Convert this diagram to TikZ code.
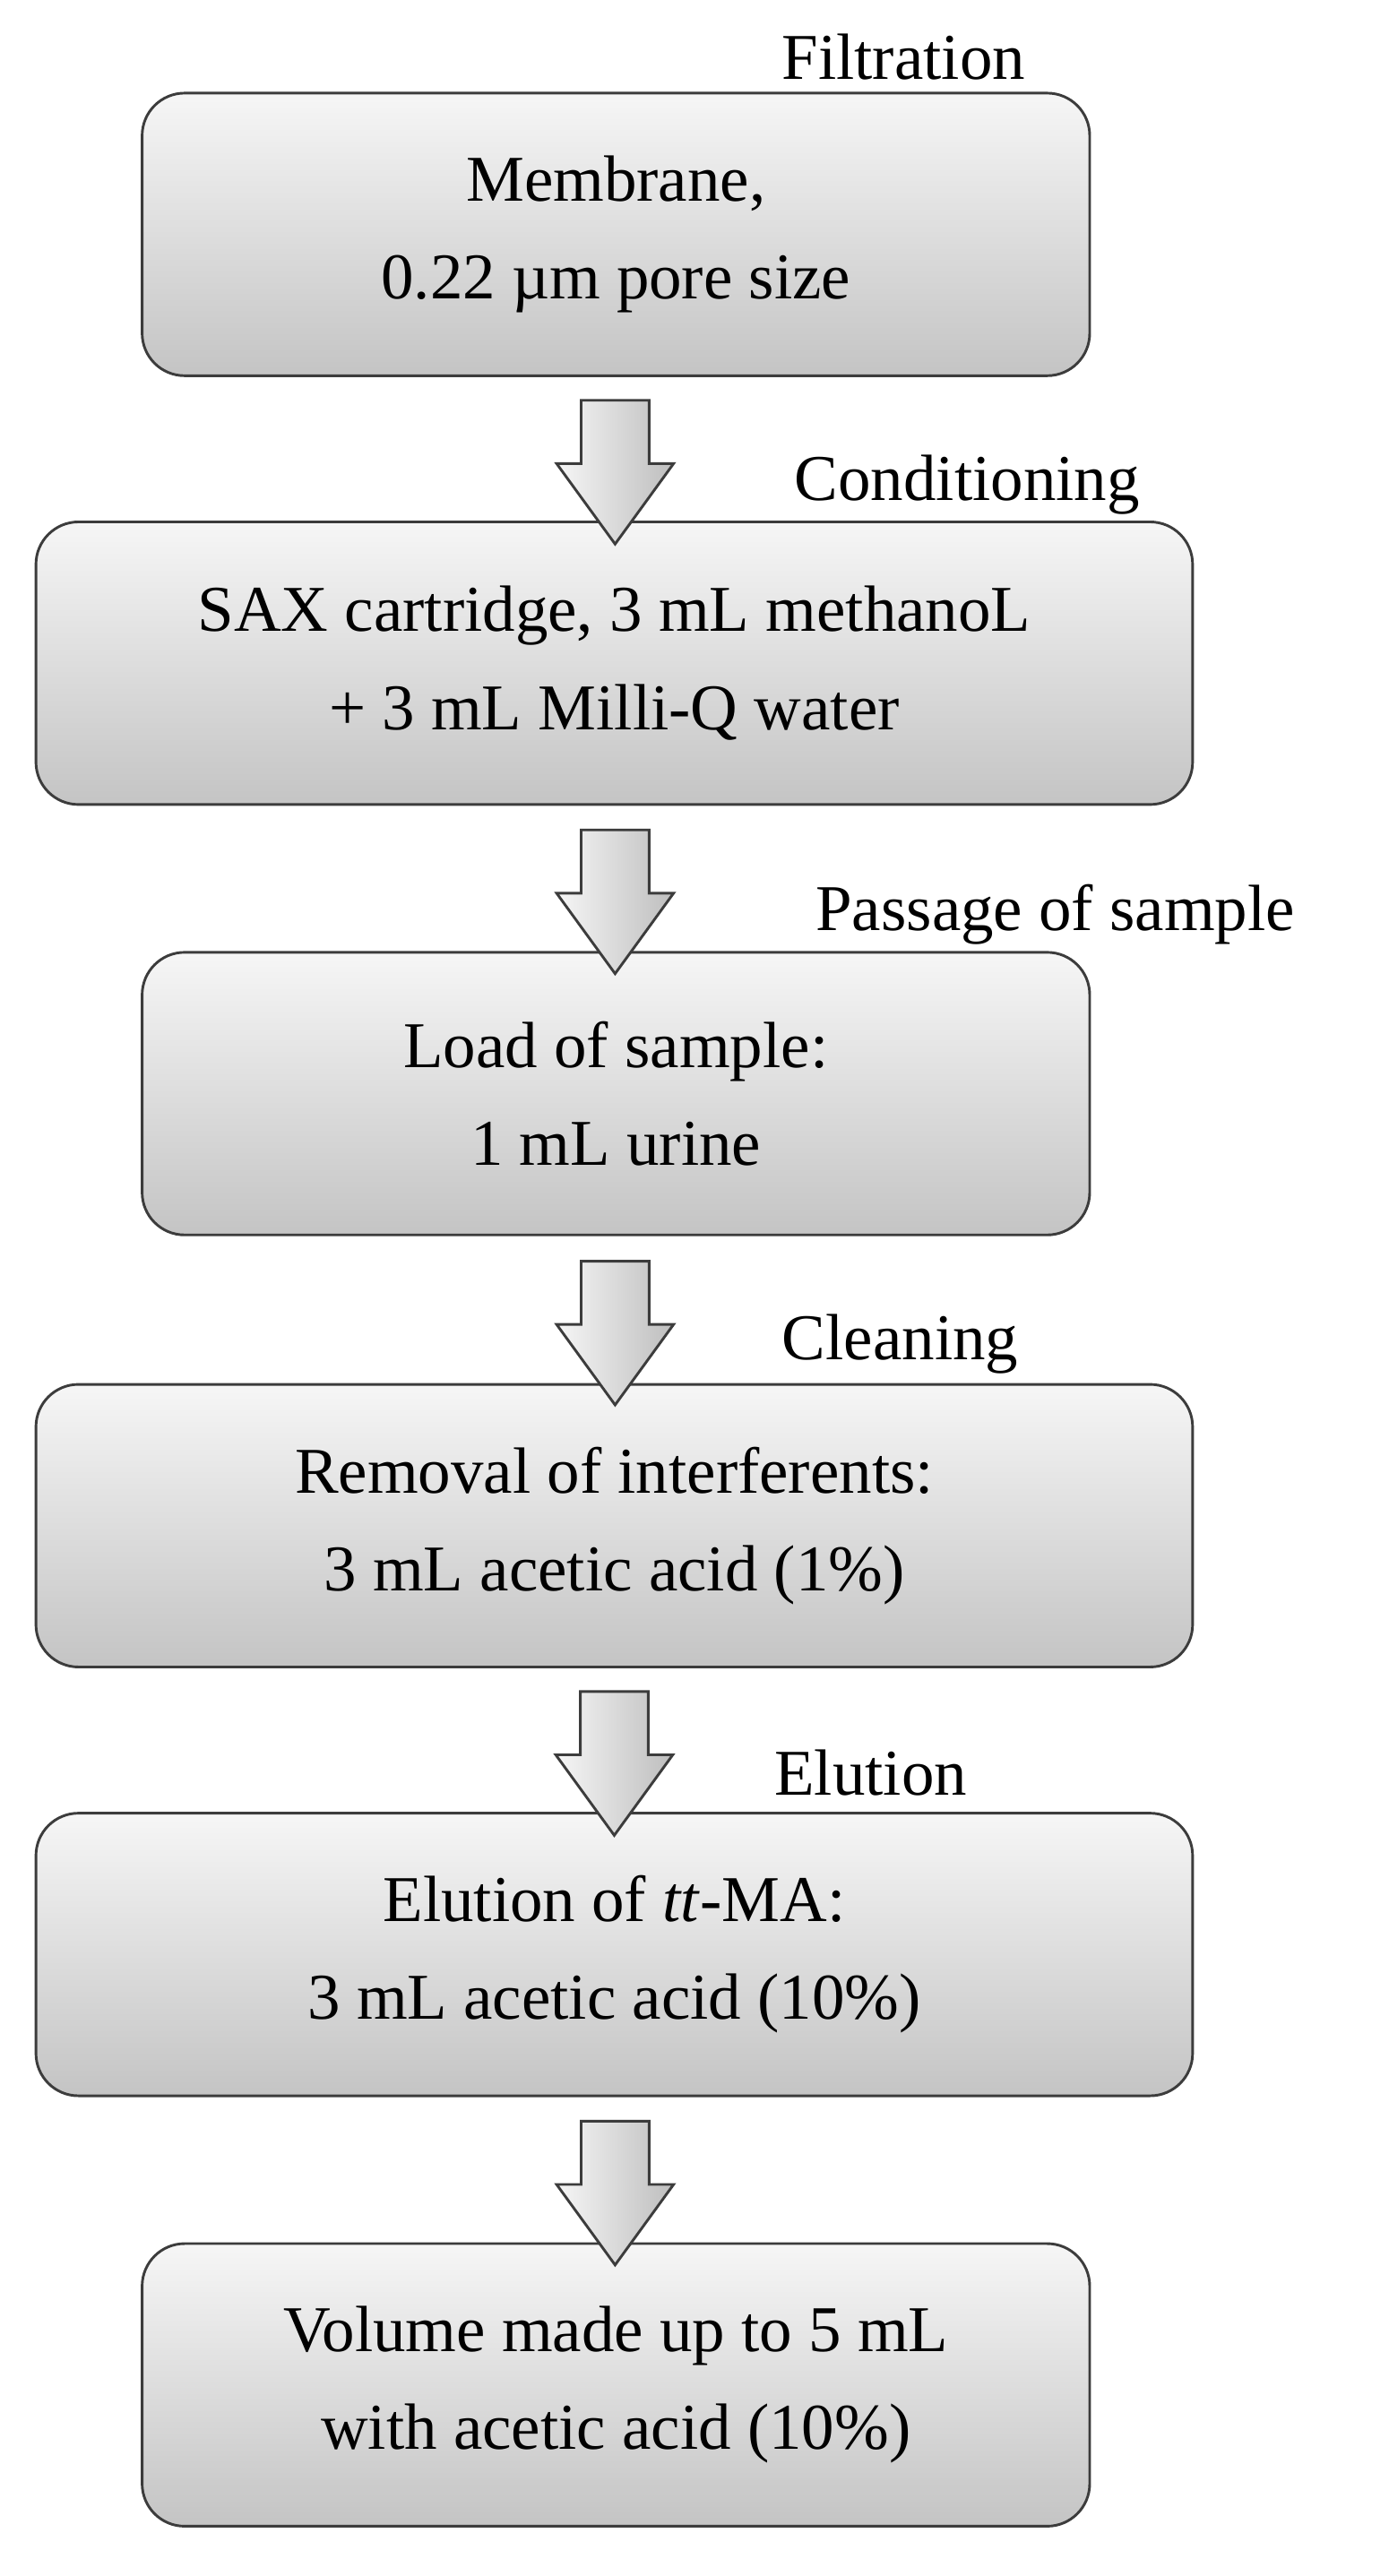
\documentclass[tikz,border=0pt]{standalone}
\usepackage{fontspec}
\setmainfont{Liberation Serif}
\usetikzlibrary{shapes.arrows,calc}

\tikzset{
  stage box/.style={draw={rgb,255:red,60;green,60;blue,60},line width=1.6pt,rounded corners=26pt,
    top color={rgb,255:red,246;green,246;blue,246},bottom color={rgb,255:red,196;green,196;blue,196},
    minimum height=173pt,align=center,font=\fontsize{40}{60}\selectfont},
  narrow/.style={stage box,minimum width=580pt},
  wide/.style={stage box,minimum width=708pt},
  flow/.style={single arrow,draw={rgb,255:red,60;green,60;blue,60},line width=1.6pt,
    top color={rgb,255:red,246;green,246;blue,246},bottom color={rgb,255:red,190;green,190;blue,190},
    shading angle=90,rotate=-90,inner sep=20pt,single arrow head extend=15pt,
    single arrow tip angle=72,minimum height=88pt},
  tag/.style={font=\fontsize{40}{48}\selectfont}
}

\begin{document}
\begin{tikzpicture}[x=1pt,y=-1pt]
\useasboundingbox (0,0) rectangle (850,1577);

% steps
\node[narrow] (filt) at (377,143.5) {Membrane,\\0.22 µm pore size};
\node[wide] (cond) at (376,406) {SAX cartridge, 3 mL methanoL\\+ 3 mL Milli-Q water};
\node[narrow] (load) at (377,669.5) {Load of sample:\\1 mL urine};
\node[wide] (clean) at (376,934) {Removal of interferents:\\3 mL acetic acid (1\%)};
\node[wide] (elut) at (376,1196.5) {Elution of \textit{tt}-MA:\\3 mL acetic acid (10\%)};
\node[narrow] (vol) at (377,1460) {Volume made up to 5 mL\\with acetic acid (10\%)};

% arrows
\node[flow] at ($(filt.south)!0.5!(cond.north)$) {};
\node[flow] at ($(cond.south)!0.5!(load.north)$) {};
\node[flow] at ($(load.south)!0.5!(clean.north)$) {};
\node[flow] at ($(clean.south)!0.5!(elut.north)$) {};
\node[flow] at ($(elut.south)!0.5!(vol.north)$) {};

% stage labels
\node[tag] (tfilt) at (553,35) {Filtration};
\node[tag] (tcond) at (592,297) {Conditioning};
\node[tag] (tpass) at (646,560) {Passage of sample};
\node[tag] (tclean) at (551,823) {Cleaning};
\node[tag] (telut) at (533,1085) {Elution};
\end{tikzpicture}
\end{document}
